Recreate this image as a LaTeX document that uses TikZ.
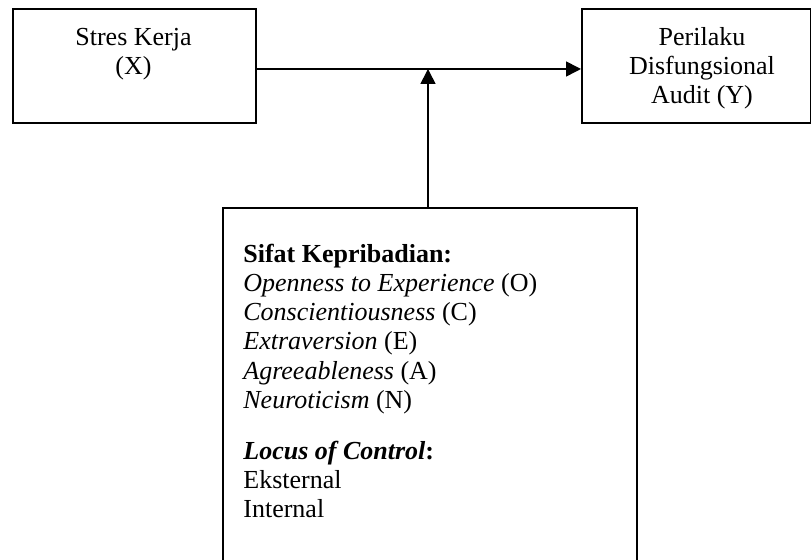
\documentclass[tikz,border=0pt]{standalone}
\usepackage{fontspec}
\setmainfont{Liberation Serif}
\usetikzlibrary{arrows.meta}
\begin{document}
\begin{tikzpicture}[x=0.5pt,y=-0.5pt,
  box/.style={draw, line width=0.8pt, inner sep=0pt, anchor=north west},
  txt/.style={font=\fontsize{13}{14.6}\selectfont, inner sep=0pt},
  link/.style={line width=0.8pt, -{Triangle[length=7.5pt,width=7.5pt]}}]
\path[use as bounding box, clip] (0,0) rectangle (811,560);

% the three boxes
\node[box, minimum width=121.5pt, minimum height=56.75pt] (stres) at (12,8.5) {};
\node[box, minimum width=114.25pt, minimum height=56.75pt] (perilaku) at (581,8.5) {};
\node[box, minimum width=207pt, minimum height=181.5pt] (sifat) at (222,207) {};

% box contents (each node is placed by the baseline of its last line)
\node[txt, align=center, anchor=base] (stresT) at (133.5,75) {Stres Kerja\\(X)};
\node[txt, align=center, anchor=base] (perilakuT) at (702,104) {Perilaku\\Disfungsional\\Audit (Y)};
\node[txt, align=left, anchor=base west] (sifatT) at (243,518)
  {\textbf{Sifat Kepribadian:}\\
   \textit{Openness to Experience} (O)\\
   \textit{Conscientiousness} (C)\\
   \textit{Extraversion} (E)\\
   \textit{Agreeableness} (A)\\
   \textit{Neuroticism} (N)\\[11pt]
   \textbf{\textit{Locus of Control}:}\\
   Eksternal\\
   Internal};

% connectors
\coordinate (join) at (428,69);
\draw[link] (stres.east |- join) -- (perilaku.west |- join);
\draw[link] (sifat.north -| join) -- (join);
\end{tikzpicture}
\end{document}
